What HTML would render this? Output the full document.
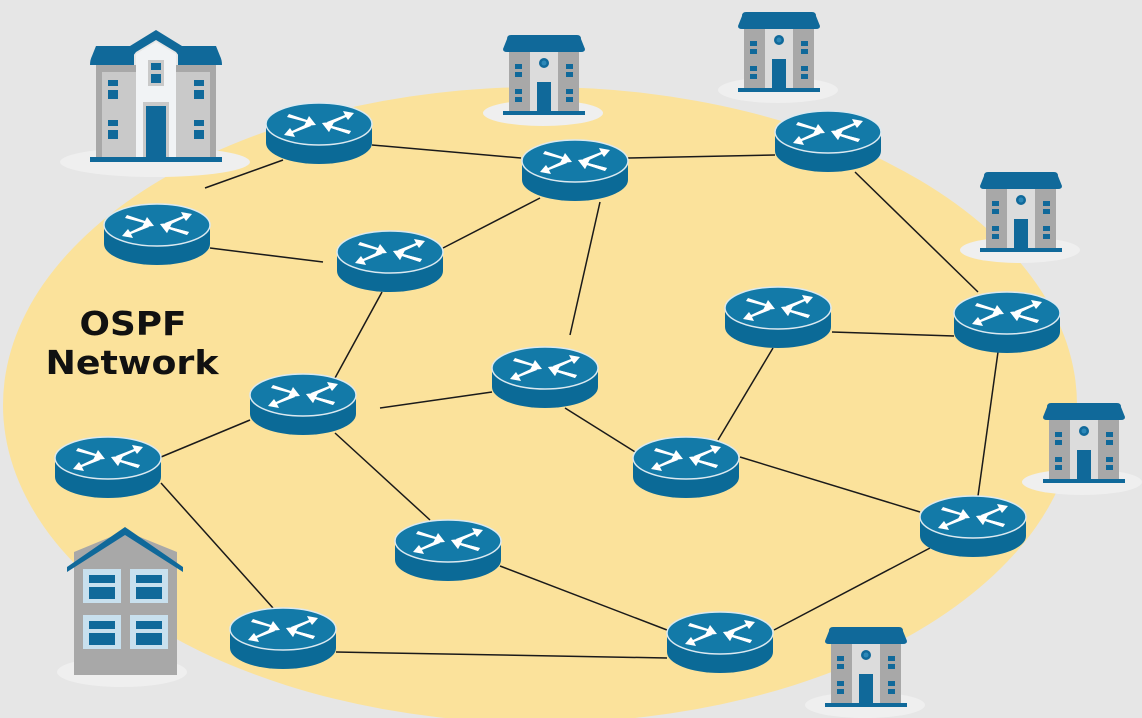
<!DOCTYPE html>
<html><head><meta charset="utf-8"><style>
html,body{margin:0;padding:0;background:#e6e6e6;}
svg{display:block;}
</style></head><body>
<svg width="1142" height="718" viewBox="0 0 1142 718" xmlns="http://www.w3.org/2000/svg">
<defs>
  <g id="r">
    <path d="M-53,0 L-53,19 A53,21 0 0 0 53,19 L53,0 Z" fill="#0b6a97"/>
    <ellipse cx="0" cy="0" rx="53" ry="21" fill="#137aa8" stroke="#dbe9f0" stroke-width="1.5"/>
    <g fill="#ffffff">
      <path d="M-30,-10 L-12,-4 L-10,-8 L-3,1 L-15,2 L-13,-2 L-32,-7 Z"/>
      <path d="M30,-10 L12,-4 L10,-8 L3,1 L15,2 L13,-2 L32,-7 Z" transform="rotate(180 0 0) scale(1,-1) rotate(180)"/>
      <path d="M8,-2 L26,-9 L24,-13 L35,-11 L29,-4 L27,-7 L10,1 Z"/>
      <path d="M-8,2 L-26,9 L-24,13 L-35,11 L-29,4 L-27,7 L-10,-1 Z"/>
      <path d="M30,10 L12,4 L10,8 L3,-1 L15,-2 L13,2 L32,7 Z"/>
    </g>
  </g>
  <g id="b">
    <rect x="6" y="16" width="70" height="62" fill="#a8a8a8"/>
    <rect x="27" y="16" width="28" height="62" fill="#dcdcdc"/>
    <path d="M4,4 Q4,0 8,0 L74,0 Q78,0 78,4 L82,14 Q82,17 78,17 L4,17 Q0,17 0,14 Z" fill="#10699a"/>
    <circle cx="41" cy="28" r="5" fill="#10699a"/>
    <circle cx="41" cy="28" r="2.5" fill="#2c88b8"/>
    <rect x="34" y="47" width="14" height="29" fill="#10699a"/>
    <g fill="#10699a">
      <rect x="12" y="29" width="7" height="5"/><rect x="12" y="37" width="7" height="5"/>
      <rect x="12" y="54" width="7" height="5"/><rect x="12" y="62" width="7" height="5"/>
      <rect x="63" y="29" width="7" height="5"/><rect x="63" y="37" width="7" height="5"/>
      <rect x="63" y="54" width="7" height="5"/><rect x="63" y="62" width="7" height="5"/>
    </g>
    <rect x="0" y="76" width="82" height="4" fill="#10699a"/>
  </g>
</defs>
<rect width="1142" height="718" fill="#e6e6e6"/>
<ellipse cx="540" cy="405" rx="537" ry="318" fill="#fbe29b"/>

<!-- shadows -->
<g fill="#efefef">
  <ellipse cx="155" cy="162" rx="95" ry="15"/>
  <ellipse cx="543" cy="113" rx="60" ry="13"/>
  <ellipse cx="778" cy="90" rx="60" ry="13"/>
  <ellipse cx="1020" cy="250" rx="60" ry="13"/>
  <ellipse cx="1082" cy="482" rx="60" ry="13"/>
  <ellipse cx="865" cy="705" rx="60" ry="13"/>
  <ellipse cx="122" cy="672" rx="65" ry="15"/>
</g>

<!-- edges -->
<g stroke="#1a1a1a" stroke-width="1.5">
<line x1="205" y1="188" x2="283" y2="160"/>
<line x1="372" y1="145" x2="521" y2="158"/>
<line x1="628" y1="158" x2="775" y2="155"/>
<line x1="855" y1="172" x2="978" y2="292"/>
<line x1="210" y1="248" x2="323" y2="262"/>
<line x1="443" y1="248" x2="540" y2="198"/>
<line x1="600" y1="202" x2="570" y2="335"/>
<line x1="382" y1="292" x2="335" y2="378"/>
<line x1="380" y1="408" x2="492" y2="392"/>
<line x1="250" y1="420" x2="161" y2="457"/>
<line x1="335" y1="433" x2="430" y2="520"/>
<line x1="161" y1="483" x2="273" y2="608"/>
<line x1="565" y1="408" x2="640" y2="455"/>
<line x1="718" y1="440" x2="773" y2="348"/>
<line x1="832" y1="332" x2="954" y2="336"/>
<line x1="998" y1="352" x2="978" y2="496"/>
<line x1="740" y1="457" x2="920" y2="512"/>
<line x1="930" y1="548" x2="774" y2="630"/>
<line x1="500" y1="566" x2="667" y2="630"/>
<line x1="336" y1="652" x2="667" y2="658"/>
</g>

<!-- routers -->
<use href="#r" x="319" y="124"/>
<use href="#r" x="575" y="161"/>
<use href="#r" x="828" y="132"/>
<use href="#r" x="157" y="225"/>
<use href="#r" x="390" y="252"/>
<use href="#r" x="778" y="308"/>
<use href="#r" x="1007" y="313"/>
<use href="#r" x="545" y="368"/>
<use href="#r" x="303" y="395"/>
<use href="#r" x="108" y="458"/>
<use href="#r" x="686" y="458"/>
<use href="#r" x="973" y="517"/>
<use href="#r" x="448" y="541"/>
<use href="#r" x="283" y="629"/>
<use href="#r" x="720" y="633"/>

<!-- small buildings -->
<use href="#b" x="503" y="35"/>
<use href="#b" x="738" y="12"/>
<use href="#b" x="980" y="172"/>
<use href="#b" x="1043" y="403"/>
<use href="#b" x="825" y="627"/>

<!-- big building -->
<g transform="translate(90,30)">
  <rect x="6" y="35" width="120" height="95" fill="#a8a8a8"/>
  <path d="M6,16 L44,16 L44,35 L0,35 Q0,30 2,26 Z" fill="#10699a"/>
  <path d="M88,16 L126,16 L130,26 Q132,30 132,35 L88,35 Z" fill="#10699a"/>
  <rect x="12" y="42" width="108" height="88" fill="#c9c9c9"/>
  <rect x="12" y="35" width="108" height="3" fill="#a8a8a8"/>
  <path d="M40,16 L66,0 L92,16 L92,30 L86,22 L66,10 L46,22 L40,30 Z" fill="#10699a"/>
  <path d="M46,24 L66,12 L86,24 L86,130 L46,130 Z" fill="#f1f3f5"/>
  <rect x="58" y="30" width="16" height="26" fill="#c9c9c9"/>
  <rect x="61" y="33" width="10" height="7" fill="#10699a"/>
  <rect x="61" y="44" width="10" height="9" fill="#10699a"/>
  <rect x="53" y="72" width="26" height="58" fill="#c9c9c9"/>
  <rect x="56" y="76" width="20" height="54" fill="#10699a"/>
  <g fill="#10699a">
    <rect x="18" y="50" width="10" height="6"/><rect x="18" y="60" width="10" height="9"/>
    <rect x="18" y="90" width="10" height="6"/><rect x="18" y="100" width="10" height="9"/>
    <rect x="104" y="50" width="10" height="6"/><rect x="104" y="60" width="10" height="9"/>
    <rect x="104" y="90" width="10" height="6"/><rect x="104" y="100" width="10" height="9"/>
  </g>
  <rect x="0" y="127" width="132" height="5" fill="#10699a"/>
</g>

<!-- house -->
<g transform="translate(67,527)">
  <path d="M7,25 L58,4 L110,25 L110,148 L7,148 Z" fill="#a8a8a8"/>
  <path d="M0,40 L58,0 L116,40 L116,45 L58,8 L0,45 Z" fill="#10699a"/>
  <g fill="#c8e0ee">
    <rect x="16" y="42" width="38" height="34"/><rect x="63" y="42" width="38" height="34"/>
    <rect x="16" y="88" width="38" height="34"/><rect x="63" y="88" width="38" height="34"/>
  </g>
  <g fill="#10699a">
    <rect x="22" y="48" width="26" height="8"/><rect x="22" y="60" width="26" height="12"/>
    <rect x="69" y="48" width="26" height="8"/><rect x="69" y="60" width="26" height="12"/>
    <rect x="22" y="94" width="26" height="8"/><rect x="22" y="106" width="26" height="12"/>
    <rect x="69" y="94" width="26" height="8"/><rect x="69" y="106" width="26" height="12"/>
  </g>
</g>

<g font-family="DejaVu Sans, Liberation Sans, sans-serif" font-weight="bold" font-size="33" fill="#111" text-anchor="middle">
  <text x="133" y="335" textLength="107" lengthAdjust="spacingAndGlyphs">OSPF</text>
  <text x="132" y="374" textLength="173" lengthAdjust="spacingAndGlyphs">Network</text>
</g>
</svg>
</body></html>
